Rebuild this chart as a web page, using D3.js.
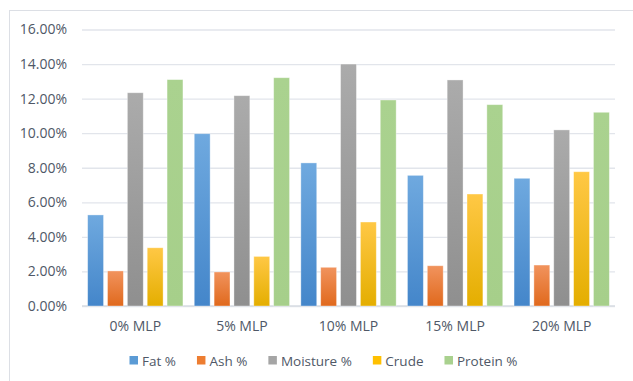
<!DOCTYPE html>
<html>
<head>
<meta charset="utf-8">
<script src="https://cdn.jsdelivr.net/npm/d3@7"></script>
<style>
  html, body { margin: 0; padding: 0; background: #fff; }
  svg { display: block; font-family: "Open Sans", sans-serif; }
</style>
</head>
<body>
<svg id="chart" width="633" height="381"></svg>
<script>
// Composition of samples by MLP inclusion level
const groups = ["0% MLP", "5% MLP", "10% MLP", "15% MLP", "20% MLP"];
const seriesNames = ["Fat %", "Ash %", "Moisture %", "Crude", "Protein %"];
const fat      = [5.27, 9.97, 8.28, 7.56, 7.39];
const ash      = [2.03, 1.97, 2.24, 2.33, 2.37];
const moisture = [12.34, 12.17, 14.00, 13.08, 10.19];
const crude    = [3.37, 2.87, 4.86, 6.48, 7.77];
const protein  = [13.10, 13.21, 11.92, 11.65, 11.21];
const yTicks   = [0, 2, 4, 6, 8, 10, 12, 14, 16];

const seriesValues = [fat, ash, moisture, crude, protein];
// top / bottom stops of each series' vertical gradient, plus legend swatch
const palette = [
  { top: "#6fa9df", bottom: "#4486ca", swatch: "#5b9bd5" },
  { top: "#f1935d", bottom: "#e0691d", swatch: "#ed7d31" },
  { top: "#ababab", bottom: "#8f8f8f", swatch: "#a5a5a5" },
  { top: "#ffc845", bottom: "#e4ae00", swatch: "#ffc000" },
  { top: "#aad28f", bottom: "#a6cf8a", swatch: "#a9d18e" }
];

const svg = d3.select("#chart");
const textColor = "#4f5867";

// chart frame
svg.append("rect")
  .attr("x", 9.5).attr("y", 10.5)
  .attr("width", 640).attr("height", 400)
  .attr("fill", "#fff")
  .attr("stroke", "#dcdfe5").attr("stroke-width", 1);

const plot = { left: 82, right: 615, top: 29.5, bottom: 306 };

const y = d3.scaleLinear().domain([0, 16]).range([plot.bottom, plot.top]);
const x0 = d3.scaleBand().domain(groups).range([plot.left, plot.right])
  .paddingInner(0.106).paddingOuter(0.053);
const x1 = d3.scaleBand().domain(seriesNames).range([0, x0.bandwidth()])
  .paddingInner(0.2).paddingOuter(0);

// gradients
const defs = svg.append("defs");
palette.forEach((p, i) => {
  const g = defs.append("linearGradient")
    .attr("id", "grad" + i)
    .attr("x1", 0).attr("y1", 0).attr("x2", 0).attr("y2", 1);
  g.append("stop").attr("offset", "0%").attr("stop-color", p.top);
  g.append("stop").attr("offset", "100%").attr("stop-color", p.bottom);
});

// gridlines and y tick labels
const yAxis = d3.axisLeft(y)
  .tickValues(yTicks)
  .tickSize(-(plot.right - plot.left))
  .tickPadding(15)
  .tickFormat(d => d3.format(".2f")(d) + "%");

const gy = svg.append("g")
  .attr("transform", `translate(${plot.left},0)`)
  .call(yAxis);
gy.select(".domain").remove();
gy.selectAll(".tick line").attr("stroke", "#e2e5eb").attr("stroke-width", 1.3);
gy.selectAll(".tick text")
  .attr("fill", textColor)
  .attr("font-size", "14px")
  .attr("font-family", "Open Sans, sans-serif");

// baseline
svg.append("line")
  .attr("x1", plot.left).attr("x2", plot.right)
  .attr("y1", y(0)).attr("y2", y(0))
  .attr("stroke", "#d9dce3").attr("stroke-width", 1.3);

// bars
const groupSel = svg.append("g").selectAll("g")
  .data(groups)
  .join("g")
  .attr("transform", d => `translate(${x0(d)},0)`);

groupSel.selectAll("rect")
  .data((g, gi) => seriesNames.map((s, si) => ({ s, si, v: seriesValues[si][gi] })))
  .join("rect")
  .attr("x", d => x1(d.s))
  .attr("width", x1.bandwidth())
  .attr("y", d => y(d.v))
  .attr("height", d => y(0) - y(d.v))
  .attr("fill", d => `url(#grad${d.si})`)
  .attr("stroke", "#ffffff")
  .attr("stroke-opacity", 0.45)
  .attr("stroke-width", 0.8);

// category labels
const xAxis = d3.axisBottom(x0).tickSize(0).tickPadding(15);
const gx = svg.append("g")
  .attr("transform", `translate(0,${plot.bottom})`)
  .call(xAxis);
gx.select(".domain").remove();
gx.selectAll(".tick text")
  .attr("fill", textColor)
  .attr("font-size", "14px")
  .attr("font-family", "Open Sans, sans-serif");

// legend
const legend = svg.append("g").attr("transform", "translate(0,361)");
const items = legend.selectAll("g")
  .data(seriesNames)
  .join("g");
items.append("rect")
  .attr("y", -5).attr("width", 8.5).attr("height", 8.5)
  .attr("fill", (d, i) => palette[i].swatch);
items.append("text")
  .attr("x", 12.5).attr("y", 0)
  .attr("dy", "0.35em")
  .attr("fill", textColor)
  .attr("font-size", "13.5px")
  .text(d => d);

let widths = [];
items.each(function () {
  widths.push(this.querySelector("text").getComputedTextLength() + 12.5);
});
const gap = 21;
const total = d3.sum(widths) + gap * (widths.length - 1);
let cx = 323.5 - total / 2;
items.attr("transform", (d, i) => {
  const t = `translate(${cx},0)`;
  cx += widths[i] + gap;
  return t;
});
</script>
</body>
</html>
